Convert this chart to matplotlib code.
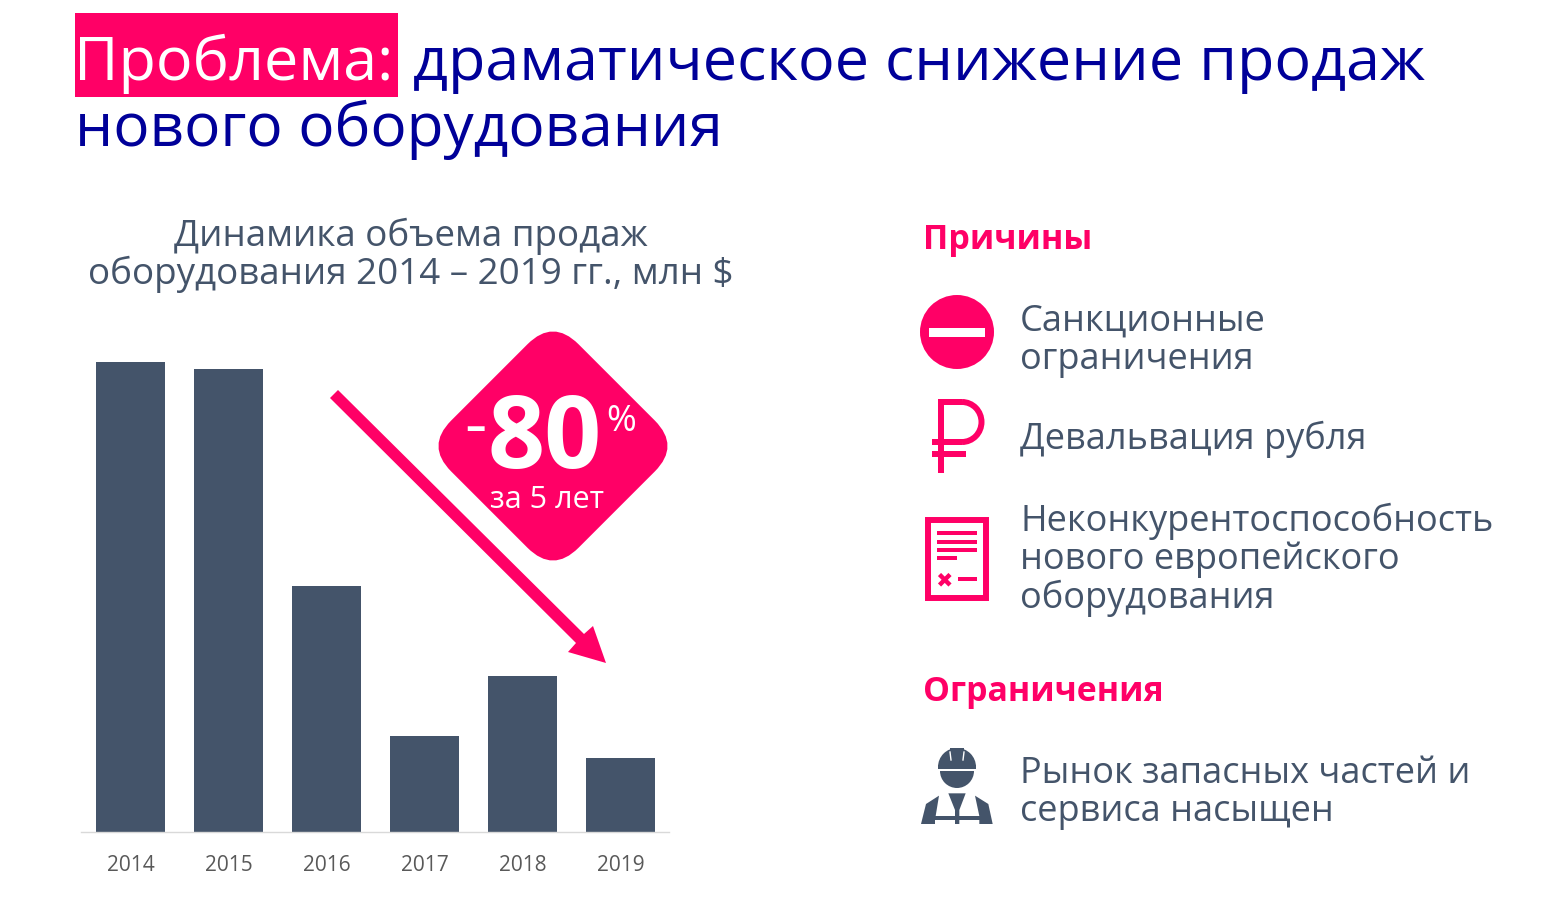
import matplotlib
matplotlib.use("Agg")
import matplotlib.pyplot as plt
from matplotlib.patches import Rectangle, Circle, Polygon, FancyBboxPatch, Arc, Wedge
from matplotlib.transforms import Affine2D

plt.rcParams['font.family'] = ['Open Sans', 'DejaVu Sans']

# chart data (mln $, estimated)
years = ['2014', '2015', '2016', '2017', '2018', '2019']
sales = [235, 231.5, 123, 48, 78, 37]

title_first = 'Проблема:'
title_rest = 'драматическое снижение продаж'
title_second = 'нового оборудования'
chart_title = ['Динамика объема продаж', 'оборудования 2014 – 2019 гг., млн $']
reasons = [(['Санкционные', 'ограничения'], 331),
           (['Девальвация рубля'], 449),
           (['Неконкурентоспособность', 'нового европейского', 'оборудования'], 531)]
limits = [(['Рынок запасных частей и', 'сервиса насыщен'], 783)]

PINK = '#FF0066'
SLATE = '#44546A'
NAVY = '#000099'
W, H = 1560, 906

fig = plt.figure(figsize=(W / 100, H / 100), dpi=100, facecolor='white')

# bar chart
ax = fig.add_axes([81 / W, (H - 832) / H, 588 / W, 480 / H])
ax.bar(range(len(years)), sales, width=0.704, color=SLATE)
ax.set_xlim(-0.505, 5.495)
ax.set_ylim(0, 240)
ax.set_xticks(range(len(years)))
ax.set_xticklabels(years, fontsize=15, color='#595959')
ax.tick_params(axis='x', length=0, pad=16.5)
ax.set_yticks([])
for s in ['top', 'left', 'right']:
    ax.spines[s].set_visible(False)
ax.spines['bottom'].set_color('#D9D9D9')
ax.spines['bottom'].set_linewidth(1)
ax.patch.set_alpha(0)

# overlay in pixel coordinates for the slide decoration
ov = fig.add_axes([0, 0, 1, 1])
ov.set_xlim(0, W)
ov.set_ylim(H, 0)
ov.axis('off')
ov.patch.set_alpha(0)


def rect(x0, y0, x1, y1, color=PINK):
    ov.add_patch(Rectangle((x0, y0), x1 - x0, y1 - y0, color=color, lw=0))


def zoomed(points):
    return [(900 + a / 3, 730 + b / 3) for a, b in points]


# title
rect(75, 13, 398, 97)
ov.text(74, 80, title_first, fontsize=44, color='white', va='baseline')
ov.text(413, 80, title_rest, fontsize=44, color=NAVY, va='baseline')
ov.text(75, 146, title_second, fontsize=43.5, color=NAVY, va='baseline')

# chart title
for line, base in zip(chart_title, [246, 284]):
    ov.text(411, base, line, fontsize=26.5, color=SLATE, ha='center', va='baseline')

# arrow
ov.add_patch(Polygon([(330, 398), (338, 390), (584, 634), (593, 626), (606, 663),
                      (568, 652), (576, 643)], closed=True, color=PINK, lw=0))

# diamond
diamond = FancyBboxPatch((553 - 90, 446 - 90), 180, 180,
                         boxstyle='round,pad=0,rounding_size=36', color=PINK, lw=0)
diamond.set_transform(Affine2D().rotate_deg_around(553, 446, 45) + ov.transData)
ov.add_patch(diamond)
ov.text(475, 447, '-', fontsize=50, color='white', ha='center', va='baseline')
ov.text(545, 468, '80', fontsize=72, fontweight='bold', color='white', ha='center', va='baseline')
ov.text(621, 431, '%', fontsize=26, color='white', ha='center', va='baseline')
ov.text(547, 508, 'за 5 лет', fontsize=22, color='white', ha='center', va='baseline')

# right column
ov.text(923, 249, 'Причины', fontsize=24.5, fontweight='bold', color=PINK, va='baseline')
ov.text(923, 701, 'Ограничения', fontsize=24.4, fontweight='bold', color=PINK, va='baseline')
for lines, base in reasons + limits:
    for i, line in enumerate(lines):
        ov.text(1020, base + i * 38.5, line, fontsize=26, color=SLATE, va='baseline')

# no-entry icon
ov.add_patch(Circle((957, 332), 37, color=PINK, lw=0))
rect(929, 328, 985, 337, 'white')

# ruble icon
rect(938, 399, 944, 473)
rect(938, 399, 962, 405)
rect(932, 439, 962, 445)
rect(932, 451, 966, 457)
ov.add_patch(Arc((962, 422), 39, 40, theta1=-90, theta2=90, color=PINK, lw=4.3))

# document icon
ov.add_patch(Rectangle((928, 519.5), 58, 78, fill=False, edgecolor=PINK, lw=4.3))
rect(937, 531, 977, 535)
rect(937, 539.5, 977, 543.7)
rect(937, 547.7, 977, 552)
rect(937, 556, 957, 560)
rect(958, 577.3, 977, 581.3)
ov.plot([939.5, 950], [574.5, 585], color=PINK, lw=3.2, solid_capstyle='butt')
ov.plot([939.5, 950], [585, 574.5], color=PINK, lw=3.2, solid_capstyle='butt')

# worker icon
ov.add_patch(Wedge((957, 767), 19, 180, 360, color=SLATE, lw=0))
rect(950, 748, 964, 760, SLATE)
rect(938, 765, 976, 769, SLATE)
ov.plot([950, 951], [752, 760], color='white', lw=1)
ov.plot([964, 963], [752, 760], color='white', lw=1)
ov.add_patch(Wedge((957, 771), 17, 0, 180, color=SLATE, lw=0))
ov.add_patch(Polygon(zoomed([(63, 282), (78, 222), (117, 197), (107, 258), (238, 258), (225, 197),
                             (265, 222), (278, 282), (238, 282), (238, 270), (178, 270), (178, 282),
                             (165, 282), (165, 270), (105, 270), (105, 282)]),
                     closed=True, color=SLATE, lw=0))
ov.add_patch(Polygon(zoomed([(145, 190), (197, 190), (178, 240), (178, 262), (165, 262), (165, 240)]),
                     closed=True, color=SLATE, lw=0))

fig.savefig('out.png', dpi=100)
